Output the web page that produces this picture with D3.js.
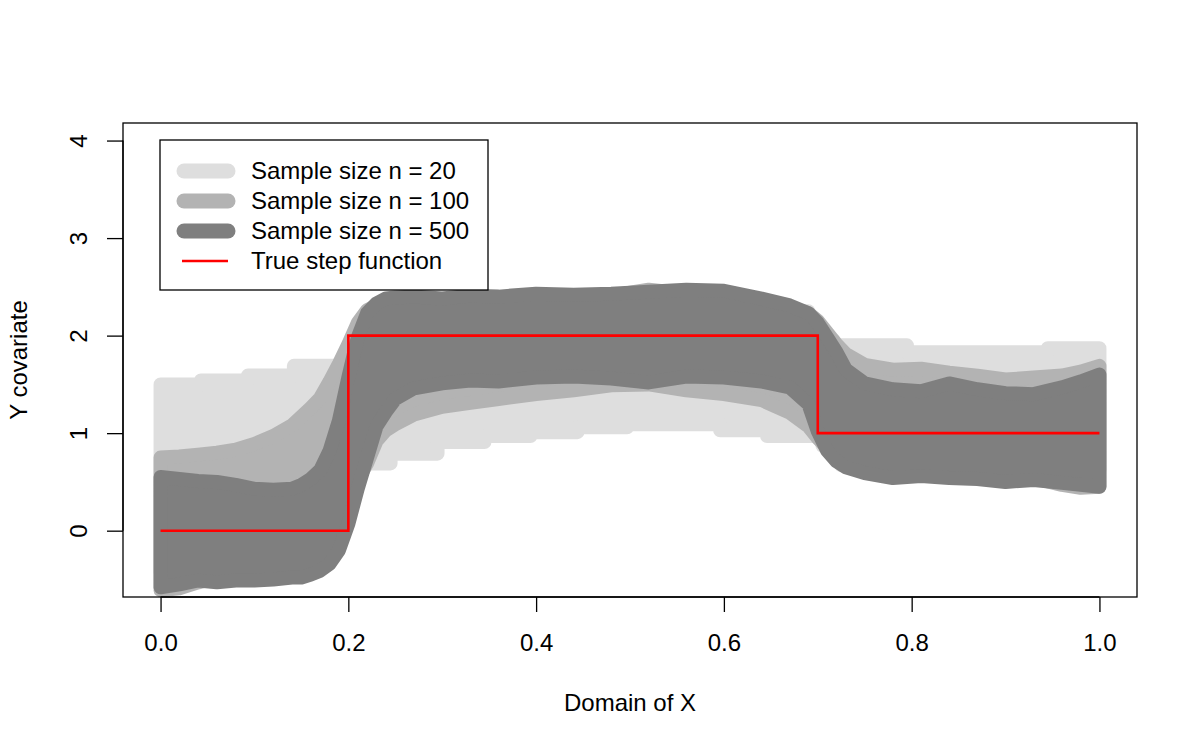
<!DOCTYPE html>
<html>
<head>
<meta charset="utf-8">
<script src="https://cdn.jsdelivr.net/npm/d3@7"></script>
<style>
  body { margin: 0; background: #fff; }
  svg { font-family: "Liberation Sans", Arial, sans-serif; }
</style>
</head>
<body>
<div id="chart"></div>
<script>
/* Step function estimates with confidence bands for three sample sizes. */

const height = 750,
    width = 1200,
    margin = ({ top: 123, right: 63, bottom: 153, left: 123 });

// grid used by the two smooth bands (n = 100, n = 500)
const gridX = [0, 0.02, 0.04, 0.06, 0.08, 0.1, 0.12, 0.14, 0.15, 0.16, 0.17, 0.18, 0.19, 0.2, 0.21, 0.22,
  0.23, 0.24, 0.25, 0.27, 0.3, 0.33, 0.36, 0.4, 0.44, 0.48, 0.52, 0.56, 0.6, 0.64, 0.67, 0.69, 0.7,
  0.71, 0.72, 0.73, 0.75, 0.78, 0.81, 0.84, 0.87, 0.9, 0.93, 0.96, 0.98, 1.0];

// n = 500
const upper500 = [0.55, 0.53, 0.51, 0.50, 0.47, 0.43, 0.42, 0.43, 0.47, 0.53, 0.62, 0.82, 1.13, 1.57, 1.98, 2.23,
  2.33, 2.38, 2.39, 2.40, 2.38, 2.41, 2.40, 2.43, 2.42, 2.43, 2.45, 2.47, 2.46, 2.38, 2.31, 2.23, 2.13,
  1.98, 1.83, 1.65, 1.51, 1.45, 1.43, 1.51, 1.45, 1.41, 1.40, 1.47, 1.53, 1.60];
const lower500 = [-0.58, -0.55, -0.51, -0.53, -0.51, -0.51, -0.50, -0.48, -0.48, -0.45, -0.41, -0.34, -0.20, 0.07, 0.43, 0.75,
  1.07, 1.22, 1.35, 1.46, 1.51, 1.54, 1.53, 1.57, 1.58, 1.56, 1.52, 1.58, 1.57, 1.53, 1.47, 1.30, 1.02,
  0.82, 0.71, 0.65, 0.59, 0.54, 0.56, 0.54, 0.53, 0.50, 0.52, 0.49, 0.47, 0.45];

// n = 100
const upper100 = [0.75, 0.76, 0.78, 0.80, 0.83, 0.89, 0.97, 1.08, 1.17, 1.26, 1.36, 1.53, 1.71, 1.91, 2.13, 2.26,
  2.31, 2.35, 2.36, 2.37, 2.36, 2.38, 2.38, 2.40, 2.40, 2.41, 2.47, 2.43, 2.43, 2.36, 2.29, 2.23, 2.15,
  2.03, 1.91, 1.81, 1.70, 1.65, 1.66, 1.62, 1.59, 1.55, 1.57, 1.59, 1.63, 1.69];
const lower100 = [-0.61, -0.59, -0.53, -0.48, -0.45, -0.43, -0.43, -0.38, -0.35, -0.31, -0.23, -0.13, 0.02, 0.27, 0.52, 0.69,
  0.92, 1.03, 1.09, 1.19, 1.27, 1.31, 1.35, 1.40, 1.44, 1.49, 1.50, 1.44, 1.40, 1.34, 1.21, 1.07, 0.95,
  0.85, 0.77, 0.69, 0.63, 0.59, 0.60, 0.59, 0.57, 0.55, 0.54, 0.47, 0.44, 0.45];

// n = 20 is a step function: breakpoints and the level after each one
const stepX = [0, 0.043, 0.093, 0.142, 0.2, 0.22, 0.245, 0.295, 0.345, 0.394, 0.444, 0.497, 0.596, 0.646,
  0.69, 0.705, 0.717, 0.725, 0.76, 0.795, 0.945, 1.0];
const upper20 = [1.50, 1.54, 1.59, 1.69, 1.88, 2.25, 2.25, 2.25, 2.25, 2.25, 2.25, 2.25, 2.25, 2.25,
  1.95, 1.95, 1.90, 1.90, 1.90, 1.83, 1.87, 1.87];
const lower20 = [-0.43, -0.43, -0.43, 0.25, 0.69, 0.69, 0.79, 0.91, 0.97, 1.01, 1.06, 1.09, 1.03, 0.97,
  0.97, 0.87, 0.87, 0.67, 0.62, 0.62, 0.62, 0.62];

// true function
const trueX = [0, 0.2, 0.2, 0.7, 0.7, 1.0];
const trueY = [0, 0, 2, 2, 1, 1];

const xTicks = [0, 0.2, 0.4, 0.6, 0.8, 1.0];
const yTicks = [0, 1, 2, 3, 4];

const legendLabels = ["Sample size n = 20", "Sample size n = 100", "Sample size n = 500", "True step function"];
const bandColors = ["#dedede", "#b3b3b3", "#7f7f7f"];

const svg = d3.select("#chart")
    .append("svg")
    .attr("width", width)
    .attr("height", height)
    .attr("viewBox", [0, 0, width, height]);

let x = d3.scaleLinear()
    .domain([-0.04, 1.04])
    .range([margin.left, width - margin.right]);

let y = d3.scaleLinear()
    .domain([-0.68, 4.18])
    .range([height - margin.bottom, margin.top]);

svg.append("clipPath")
    .attr("id", "plot-clip")
  .append("rect")
    .attr("x", margin.left)
    .attr("y", margin.top)
    .attr("width", width - margin.left - margin.right)
    .attr("height", height - margin.top - margin.bottom);

const plot = svg.append("g").attr("clip-path", "url(#plot-clip)");

function drawBand(xs, lo, hi, color, curve) {
  let rows = xs.map((v, i) => ({ x: v, lo: lo[i], hi: hi[i] }));
  let area = d3.area()
    .curve(curve)
    .x(d => x(d.x))
    .y0(d => y(d.lo))
    .y1(d => y(d.hi));
  // thick outline with round joins gives the blobby edge of the original
  plot.append("path")
    .datum(rows)
    .attr("d", area)
    .attr("fill", color)
    .attr("stroke", color)
    .attr("stroke-width", 14)
    .attr("stroke-linejoin", "round");
}

drawBand(stepX, lower20, upper20, bandColors[0], d3.curveStepAfter);
drawBand(gridX, lower100, upper100, bandColors[1], d3.curveLinear);
drawBand(gridX, lower500, upper500, bandColors[2], d3.curveLinear);

let line = d3.line()
    .x(d => x(d[0]))
    .y(d => y(d[1]));

plot.append("path")
    .datum(trueX.map((v, i) => [v, trueY[i]]))
    .attr("d", line)
    .attr("fill", "none")
    .attr("stroke", "#ff0000")
    .attr("stroke-width", 2.6);

// frame
svg.append("rect")
    .attr("x", margin.left)
    .attr("y", margin.top)
    .attr("width", width - margin.left - margin.right)
    .attr("height", height - margin.top - margin.bottom)
    .attr("fill", "none")
    .attr("stroke", "#000")
    .attr("stroke-width", 1.3);

// axes, R style: ticks out, labels away from the box
const xAxis = svg.append("g")
    .attr("transform", `translate(0,${height - margin.bottom})`)
    .call(d3.axisBottom(x).tickValues(xTicks).tickFormat(d3.format(".1f")).tickSize(15).tickPadding(0));
xAxis.select(".domain").attr("d", `M${x(0)},0H${x(1)}`).attr("stroke-width", 1.3);
xAxis.selectAll(".tick line").attr("stroke-width", 1.3);
xAxis.selectAll(".tick text")
    .attr("y", 54)
    .attr("dy", null)
    .attr("font-size", 24)
    .attr("font-family", "Liberation Sans, Arial, sans-serif");

const yAxis = svg.append("g")
    .attr("transform", `translate(${margin.left},0)`)
    .call(d3.axisLeft(y).tickValues(yTicks).tickFormat(d3.format("d")).tickSize(16));
yAxis.select(".domain").attr("d", `M0,${y(0)}V${y(4)}`).attr("stroke-width", 1.3);
yAxis.selectAll(".tick line").attr("stroke-width", 1.3);
yAxis.selectAll(".tick text")
    .attr("x", null)
    .attr("dy", null)
    .attr("transform", "translate(-36,0) rotate(-90)")
    .attr("text-anchor", "middle")
    .attr("font-size", 24)
    .attr("font-family", "Liberation Sans, Arial, sans-serif");

svg.append("text")
    .attr("class", "x-label")
    .attr("text-anchor", "middle")
    .attr("x", (margin.left + width - margin.right) / 2)
    .attr("y", 711)
    .attr("font-size", 24)
    .text("Domain of X");

svg.append("text")
    .attr("class", "y-label")
    .attr("text-anchor", "middle")
    .attr("transform", `translate(27,${(margin.top + height - margin.bottom) / 2}) rotate(-90)`)
    .attr("font-size", 24)
    .text("Y covariate");

// legend
const legend = svg.append("g");
legend.append("rect")
    .attr("x", 160)
    .attr("y", 140)
    .attr("width", 328)
    .attr("height", 150)
    .attr("fill", "#fff")
    .attr("stroke", "#000")
    .attr("stroke-width", 1.3);

legendLabels.forEach((label, i) => {
  let cy = 171 + i * 30;
  legend.append("line")
      .attr("x1", i < 3 ? 184 : 182)
      .attr("x2", 228)
      .attr("y1", cy)
      .attr("y2", cy)
      .attr("stroke", i < 3 ? bandColors[i] : "#ff0000")
      .attr("stroke-width", i < 3 ? 15 : 2.6)
      .attr("stroke-linecap", i < 3 ? "round" : "butt");
  legend.append("text")
      .attr("x", 251)
      .attr("y", cy)
      .attr("dy", "0.35em")
      .attr("font-size", 24)
      .text(label);
});
</script>
</body>
</html>
